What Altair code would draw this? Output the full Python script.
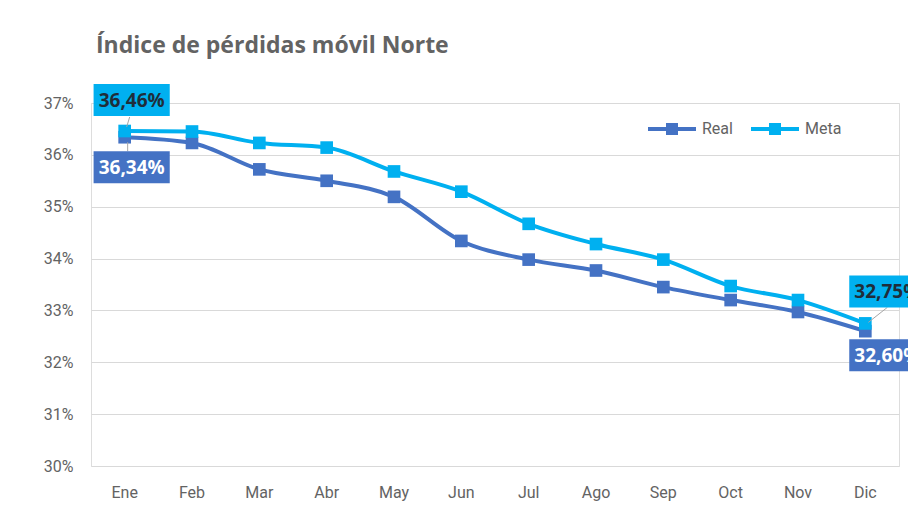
import altair as alt
import pandas as pd

meses = ["Ene", "Feb", "Mar", "Abr", "May", "Jun", "Jul", "Ago", "Sep", "Oct", "Nov", "Dic"]
real = [36.34, 36.23, 35.72, 35.50, 35.19, 34.34, 33.98, 33.77, 33.45, 33.20, 32.97, 32.60]
meta = [36.46, 36.45, 36.23, 36.14, 35.68, 35.29, 34.67, 34.28, 33.98, 33.47, 33.20, 32.75]
series = ["Real", "Meta"]
colors = ["#4472C4", "#00B0F0"]
y_ticks = [30, 31, 32, 33, 34, 35, 36, 37]

rows = []
for s, vals in (("Real", real), ("Meta", meta)):
    for m, v in zip(meses, vals):
        rows.append({"mes": m, "serie": s, "valor": v,
                     "label": f"{v:.2f}%".replace(".", ",")})
df = pd.DataFrame(rows)

FONT = "Roboto"
GREY = "#636363"

x = alt.X("mes:N", sort=meses, title=None,
          axis=alt.Axis(labelAngle=0, ticks=False, domain=False, grid=False,
                        labelFont=FONT, labelFontSize=16, labelColor=GREY,
                        labelPadding=18))
y = alt.Y("valor:Q", title=None,
          scale=alt.Scale(domain=[30, 37], nice=False, zero=False),
          axis=alt.Axis(values=y_ticks, labelExpr="datum.value + '%'",
                        ticks=False, domain=False, grid=True,
                        gridColor="#D9D9D9", gridWidth=1,
                        labelFont=FONT, labelFontSize=16, labelColor=GREY,
                        labelPadding=18))

color_scale = alt.Scale(domain=series, range=colors)
legend = alt.Legend(
    title=None, orient="none", direction="horizontal",
    legendX=573, legendY=18,
    symbolType="M-24,0H24 M-4,-4H4V4H-4Z M-1,-1H1V1H-1Z",
    symbolSize=4, symbolStrokeWidth=4, symbolOpacity=1,
    labelOffset=22, columnPadding=10, padding=0,
    labelFont=FONT, labelFontSize=16, labelColor=GREY,
)

base = alt.Chart(df)

lines = base.mark_line(
    strokeWidth=4, interpolate="monotone",
    point=alt.OverlayMarkDef(shape="square", filled=True, size=160, opacity=1),
).encode(
    x=x, y=y,
    color=alt.Color("serie:N", scale=color_scale, legend=legend),
)

BOX = "M-1.19,-0.5H1.19V0.5H-1.19Z"


def data_label(serie, mes, dx, dy, fill, txt_color, leader=None):
    sub = base.transform_filter(
        (alt.datum.serie == serie) & (alt.datum.mes == mes))
    layers = []
    if leader is not None:
        (x1, y1), (x2, y2) = leader
        layers.append(sub.mark_rule(color="#A5A5A5", strokeWidth=1,
                                    xOffset=x1, yOffset=y1,
                                    x2Offset=x2, y2Offset=y2).encode(
            x=x, y=y, x2="mes:N", y2="valor:Q"))
    layers.append(sub.mark_point(shape=BOX, size=4096, filled=True, fill=fill,
                                 opacity=1, strokeWidth=0,
                                 xOffset=dx, yOffset=dy).encode(x=x, y=y))
    layers.append(sub.mark_text(font="Open Sans", fontWeight="bold", fontSize=19,
                                color=txt_color, xOffset=dx, yOffset=dy + 1,
                                baseline="middle", align="center").encode(
        x=x, y=y, text="label:N"))
    return layers


labels = []
labels += data_label("Meta", "Ene", 7, -31, "#00B0F0", "#1F2D3A",
                     leader=((5, -14), (2, -4)))
labels += data_label("Real", "Ene", 7, 30, "#4472C4", "#FFFFFF",
                     leader=((3, 5), (3, 14)))
labels += data_label("Meta", "Dic", 22, -32, "#00B0F0", "#1F2D3A",
                     leader=((22, -16), (3, -1)))
labels += data_label("Real", "Dic", 22, 24, "#4472C4", "#FFFFFF")

chart = alt.layer(
    lines.transform_filter(alt.datum.serie == "Real"),
    lines.transform_filter(alt.datum.serie == "Meta"),
    *labels,
).properties(
    width=808, height=363,
    title=alt.TitleParams("Índice de pérdidas móvil Norte", anchor="start",
                          frame="group", font="Open Sans", fontSize=23,
                          fontWeight="bold", color=GREY, dx=5, offset=26),
    autosize=alt.AutoSizeParams(type="none"),
    padding={"left": 83, "top": 95, "right": 9, "bottom": 50},
).configure_view(stroke=None).configure(background="white")

chart.save("out.html", embed_options={"renderer": "svg", "actions": False})
